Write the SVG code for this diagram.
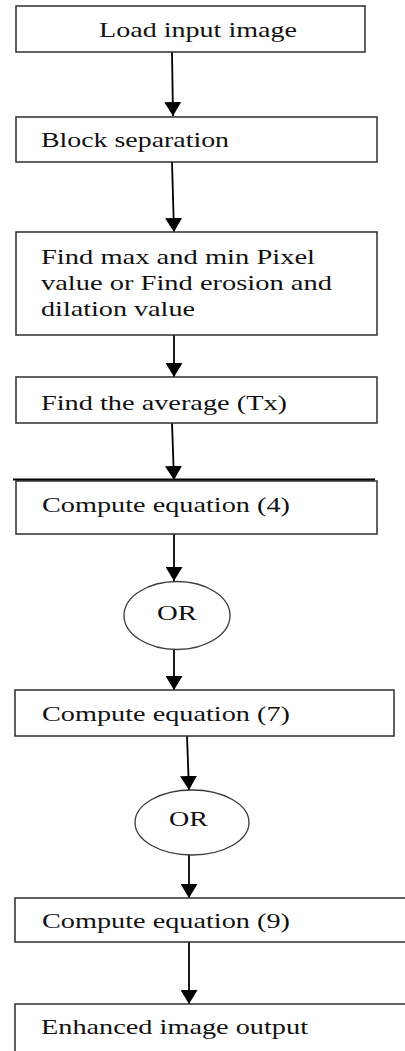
<svg xmlns="http://www.w3.org/2000/svg" width="405" height="1051" viewBox="0 0 405 1051">
<defs>
<marker id="ah" viewBox="0 0 14 17" refX="14" refY="8.5" markerWidth="14" markerHeight="17" markerUnits="userSpaceOnUse" orient="auto">
<path d="M0,0 L14,8.5 L0,17 z" fill="#000"/>
</marker>
</defs>
<style>
.box{fill:#fff;stroke:#3a3a3a;stroke-width:1.6}
.ell{fill:#fff;stroke:#3a3a3a;stroke-width:1.3}
.t{font-family:"Liberation Serif","Times New Roman",serif;font-size:22px;fill:#111}
.c{stroke:#000;stroke-width:1.8;fill:none;marker-end:url(#ah)}
</style>
<rect width="405" height="1051" fill="#fff"/>
<g id="connectors">
<line class="c" x1="172" y1="52" x2="173" y2="116"/>
<line class="c" x1="172" y1="162" x2="174" y2="232"/>
<line class="c" x1="174" y1="335" x2="174" y2="377"/>
<line class="c" x1="172" y1="423" x2="174" y2="480"/>
<line class="c" x1="174" y1="534" x2="174" y2="581"/>
<line class="c" x1="174" y1="649" x2="174" y2="690"/>
<line class="c" x1="187" y1="736" x2="189" y2="790"/>
<line class="c" x1="189" y1="855" x2="189" y2="898"/>
<line class="c" x1="189" y1="942" x2="189" y2="1004"/>
</g>
<g id="n1">
<rect class="box" x="16" y="6" width="349" height="46"/>
<text class="t" x="99" y="36.5" textLength="198" lengthAdjust="spacingAndGlyphs">Load input image</text>
</g>
<g id="n2">
<rect class="box" x="16" y="117" width="361" height="45"/>
<text class="t" x="41" y="146.5" textLength="188" lengthAdjust="spacingAndGlyphs">Block separation</text>
</g>
<g id="n3">
<rect class="box" x="16" y="232" width="361" height="103"/>
<text class="t" x="41" y="263.5" textLength="274" lengthAdjust="spacingAndGlyphs">Find max and min Pixel</text>
<text class="t" x="41" y="290" textLength="291" lengthAdjust="spacingAndGlyphs">value or Find erosion and</text>
<text class="t" x="41" y="315.5" textLength="154" lengthAdjust="spacingAndGlyphs">dilation value</text>
</g>
<g id="n4">
<rect class="box" x="16" y="377" width="361" height="46"/>
<text class="t" x="41" y="410" textLength="246" lengthAdjust="spacingAndGlyphs">Find the average (Tx)</text>
</g>
<g id="n5">
<rect class="box" x="16" y="481" width="361" height="53"/>
<line x1="13" y1="479.5" x2="375" y2="479.5" stroke="#000" stroke-width="2"/>
<text class="t" x="42" y="512" textLength="248" lengthAdjust="spacingAndGlyphs">Compute equation (4)</text>
</g>
<g id="n6">
<ellipse class="ell" cx="177" cy="615.5" rx="53" ry="34"/>
<text class="t" x="177" y="619.5" text-anchor="middle" textLength="40" lengthAdjust="spacingAndGlyphs">OR</text>
</g>
<g id="n7">
<rect class="box" x="15" y="690" width="379" height="46"/>
<text class="t" x="42" y="720.5" textLength="248" lengthAdjust="spacingAndGlyphs">Compute equation (7)</text>
</g>
<g id="n8">
<ellipse class="ell" cx="192" cy="822.5" rx="57" ry="32.5"/>
<text class="t" x="188.5" y="825.5" text-anchor="middle" textLength="39" lengthAdjust="spacingAndGlyphs">OR</text>
</g>
<g id="n9">
<rect class="box" x="15" y="898" width="400" height="44"/>
<text class="t" x="42" y="927.5" textLength="248" lengthAdjust="spacingAndGlyphs">Compute equation (9)</text>
</g>
<g id="n10">
<rect class="box" x="15" y="1004" width="400" height="60"/>
<text class="t" x="41" y="1034" textLength="267" lengthAdjust="spacingAndGlyphs">Enhanced image output</text>
</g>
</svg>
